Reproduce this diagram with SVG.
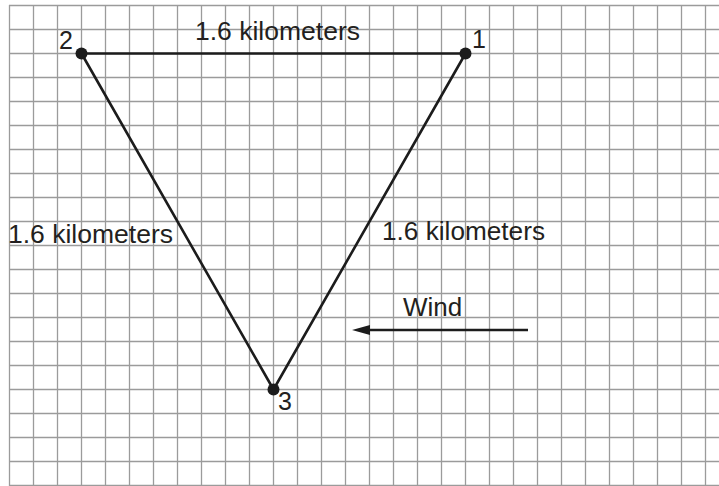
<svg xmlns="http://www.w3.org/2000/svg" width="719" height="486" viewBox="0 0 719 486">
  <defs>
    <style>
      .grid { stroke: #9b9b9b; stroke-width: 1.3; fill: none; }
      .edge { stroke: #1c1c1c; stroke-width: 2.6; fill: none; stroke-linecap: round; }
      .dot { fill: #1c1c1c; }
      .lbl { font-family: "Liberation Sans", Arial, sans-serif; font-size: 26px; fill: #231f20; }
      .num { font-family: "Liberation Sans", Arial, sans-serif; font-size: 25px; fill: #231f20; }
    </style>
    <marker id="arrowhead" viewBox="0 0 18 10" refX="0" refY="5" markerWidth="18" markerHeight="10" markerUnits="userSpaceOnUse" orient="auto-start-reverse">
      <path d="M0 0 L18 5 L0 10 Z" fill="#1c1c1c"/>
    </marker>
  </defs>
  <rect width="719" height="486" fill="#ffffff"/>
  <g id="grid">
    <path class="grid" d="M9.5 5V486M33.5 5V486M57.5 5V486M81.5 5V486M105.5 5V486M129.5 5V486M153.5 5V486M177.5 5V486M201.5 5V486M225.5 5V486M249.5 5V486M273.5 5V486M297.5 5V486M321.5 5V486M345.5 5V486M369.5 5V486M393.5 5V486M417.5 5V486M441.5 5V486M465.5 5V486M489.5 5V486M513.5 5V486M537.5 5V486M561.5 5V486M585.5 5V486M609.5 5V486M633.5 5V486M657.5 5V486M681.5 5V486M705.5 5V486"/>
    <path class="grid" d="M9 5.5H719M9 29.5H719M9 53.5H719M9 77.5H719M9 101.5H719M9 125.5H719M9 149.5H719M9 173.5H719M9 197.5H719M9 221.5H719M9 245.5H719M9 269.5H719M9 293.5H719M9 317.5H719M9 341.5H719M9 365.5H719M9 389.5H719M9 413.5H719M9 437.5H719M9 461.5H719M9 485.5H719"/>
  </g>
  <g id="connectors">
    <line class="edge" x1="81.5" y1="53.5" x2="465.5" y2="53.5"/>
    <line class="edge" x1="81.5" y1="53.5" x2="273.5" y2="389.5"/>
    <line class="edge" x1="465.5" y1="53.5" x2="273.5" y2="389.5"/>
    <text class="lbl" x="195" y="40" textLength="165" lengthAdjust="spacingAndGlyphs">1.6 kilometers</text>
    <text class="lbl" x="8" y="243" textLength="165" lengthAdjust="spacingAndGlyphs">1.6 kilometers</text>
    <text class="lbl" x="382" y="240" textLength="163" lengthAdjust="spacingAndGlyphs">1.6 kilometers</text>
  </g>
  <g id="node-1">
    <circle class="dot" cx="465.5" cy="53.5" r="6"/>
    <text class="num" x="472" y="48">1</text>
  </g>
  <g id="node-2">
    <circle class="dot" cx="81.5" cy="53.5" r="6"/>
    <text class="num" x="59" y="49">2</text>
  </g>
  <g id="node-3">
    <circle class="dot" cx="273.5" cy="389.5" r="6"/>
    <text class="num" x="278" y="410">3</text>
  </g>
  <g id="wind">
    <line stroke="#1c1c1c" stroke-width="2.4" x1="528" y1="330" x2="370" y2="330" marker-end="url(#arrowhead)"/>
    <text class="lbl" x="403" y="316">Wind</text>
  </g>
</svg>
